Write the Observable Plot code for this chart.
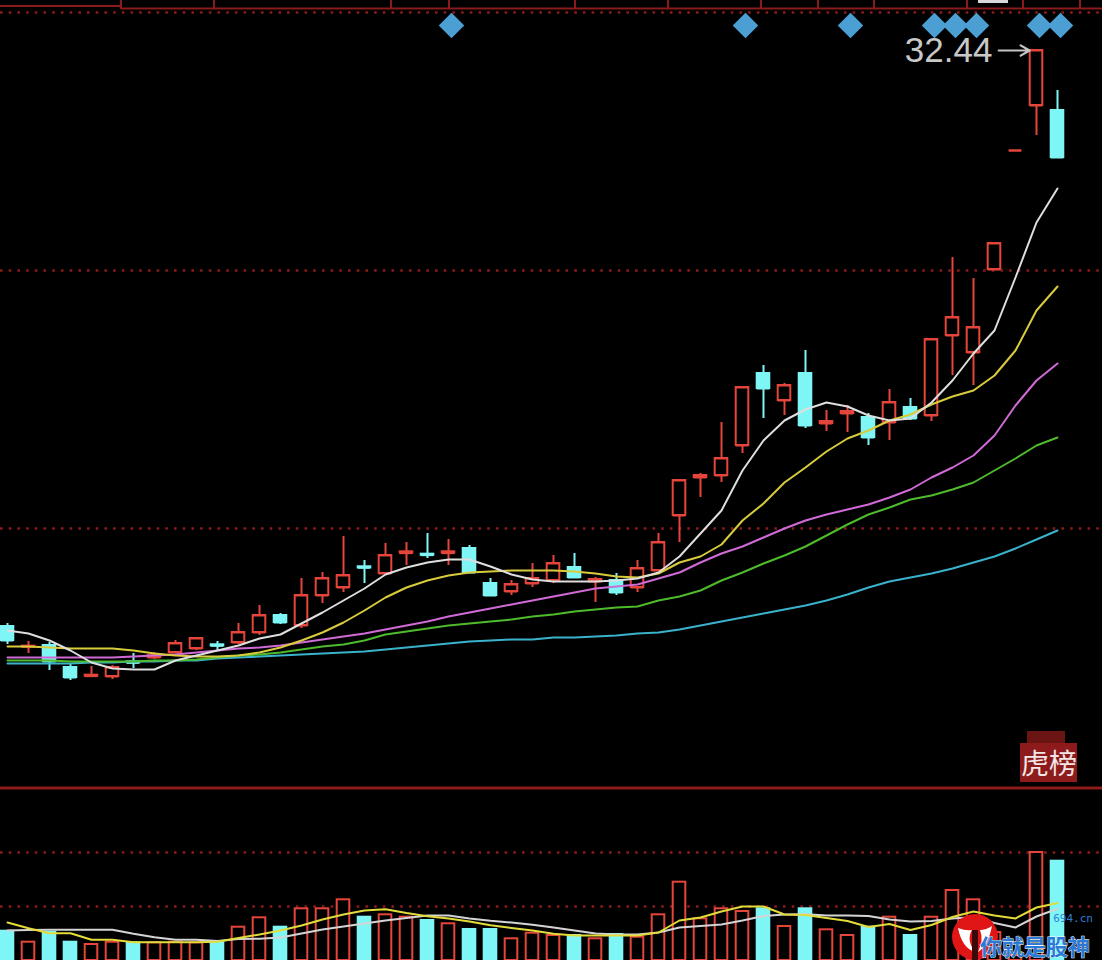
<!DOCTYPE html>
<html>
<head>
<meta charset="utf-8">
<script src="https://cdn.jsdelivr.net/npm/d3@7"></script>
<script src="https://cdn.jsdelivr.net/npm/@observablehq/plot@0.6"></script>
<style>
html,body{margin:0;padding:0;background:#000;}
#wrap{position:relative;width:1102px;height:960px;overflow:hidden;background:#000;font-family:"Liberation Sans",Arial,sans-serif;}
#main{position:absolute;left:0;top:0;}
#vol{position:absolute;left:0;top:788px;}
#deco{position:absolute;left:0;top:0;pointer-events:none;}
</style>
</head>
<body>
<div id="wrap"><div id="main"></div><div id="vol"></div></div>
<script>
// ---- daily candles (price) ----
const open = [15.16,14.55,14.59,13.93,13.67,13.66,14.10,14.23,14.38,14.50,
  14.61,14.68,14.98,15.49,15.19,16.09,16.33,16.95,16.75,17.36,
  17.33,17.36,17.50,16.45,16.21,16.45,16.54,16.93,16.51,16.54,
  16.33,16.84,18.49,19.63,19.69,20.59,22.75,21.94,22.75,21.25,
  21.55,21.43,21.28,21.73,21.49,23.89,23.38,25.87,29.44,30.79,30.64];
const high = [15.25,14.71,14.68,14.05,13.96,13.99,14.35,14.38,14.74,14.83,
  14.71,15.25,15.79,15.55,16.60,16.78,17.86,17.14,17.65,17.68,
  17.95,17.77,17.59,16.60,16.54,17.05,17.29,17.35,16.63,16.75,
  17.14,17.95,19.54,19.75,21.28,22.33,22.99,22.45,23.44,21.64,
  21.79,21.55,22.27,22.00,23.77,26.23,25.60,26.65,29.44,32.44,31.24];
const low = [14.62,14.35,13.84,13.54,13.66,13.57,13.90,14.17,14.35,14.44,
  14.44,14.62,14.89,15.22,15.10,15.85,16.18,16.45,16.69,16.99,
  17.20,16.99,16.75,16.09,16.09,16.33,16.45,16.60,15.88,16.09,
  16.18,16.84,17.68,19.03,19.48,20.35,21.40,21.49,21.10,21.01,
  20.98,20.59,20.74,21.34,21.31,22.69,22.39,25.87,29.44,29.89,29.23];
const close = [14.74,14.57,14.11,13.63,13.70,13.93,14.07,14.29,14.65,14.80,
  14.58,14.98,15.49,15.28,16.09,16.60,16.69,16.92,17.29,17.40,
  17.30,17.40,16.78,16.09,16.42,16.60,17.05,16.63,16.57,16.18,
  16.90,17.68,19.54,19.69,20.20,22.33,22.30,22.39,21.19,21.31,
  21.61,20.83,21.88,21.40,23.77,24.43,24.13,26.65,29.44,32.44,29.23];

// ---- price moving averages ----
const ma5 = [15.04,14.95,14.74,14.44,14.08,13.90,13.87,13.87,14.14,14.29,
  14.44,14.59,14.80,14.92,15.25,15.58,15.94,16.30,16.72,16.93,
  17.08,17.17,17.17,16.96,16.72,16.57,16.51,16.51,16.51,16.54,
  16.60,16.78,17.26,17.95,18.64,19.84,20.74,21.34,21.67,21.88,
  21.76,21.49,21.34,21.40,21.88,22.54,23.35,24.04,25.63,27.28,28.30];
const ma10 = [14.56,14.56,14.53,14.50,14.50,14.50,14.44,14.35,14.29,14.26,
  14.26,14.29,14.38,14.53,14.74,14.98,15.28,15.64,16.03,16.33,
  16.54,16.69,16.78,16.81,16.84,16.84,16.84,16.81,16.75,16.66,
  16.63,16.75,17.08,17.26,17.62,18.34,18.85,19.48,19.93,20.41,
  20.80,21.04,21.34,21.52,21.82,22.06,22.24,22.69,23.44,24.64,25.36];
const ma20 = [14.23,14.23,14.23,14.23,14.23,14.23,14.26,14.29,14.32,14.38,
  14.44,14.50,14.53,14.59,14.68,14.77,14.86,14.95,15.07,15.19,
  15.31,15.46,15.58,15.70,15.82,15.94,16.06,16.18,16.30,16.36,
  16.42,16.60,16.78,17.08,17.35,17.56,17.83,18.10,18.34,18.52,
  18.67,18.82,19.03,19.27,19.63,19.93,20.29,20.89,21.79,22.54,23.05];
const ma30 = [14.14,14.14,14.14,14.11,14.11,14.11,14.11,14.14,14.14,14.17,
  14.23,14.29,14.32,14.38,14.47,14.56,14.62,14.74,14.92,15.01,
  15.10,15.19,15.25,15.31,15.37,15.46,15.52,15.61,15.67,15.73,
  15.76,15.94,16.06,16.24,16.54,16.78,17.05,17.29,17.56,17.89,
  18.22,18.52,18.73,18.97,19.09,19.27,19.48,19.84,20.20,20.59,20.83];
const ma60 = [14.05,14.05,14.05,14.05,14.08,14.08,14.11,14.11,14.14,14.14,
  14.20,14.23,14.26,14.29,14.32,14.35,14.38,14.41,14.47,14.53,
  14.59,14.65,14.71,14.74,14.77,14.77,14.83,14.83,14.86,14.89,
  14.95,14.98,15.07,15.19,15.31,15.43,15.55,15.67,15.79,15.94,
  16.12,16.33,16.51,16.63,16.75,16.90,17.08,17.26,17.50,17.77,18.04];

// ---- volume and its averages ----
const volume = [2.93,1.83,2.83,1.83,1.60,1.83,1.77,1.77,1.83,1.77,
  1.77,3.33,4.27,3.33,5.17,5.17,6.07,4.33,4.57,4.33,
  4.00,3.67,3.10,3.10,2.17,2.73,2.50,2.50,2.17,2.60,
  2.33,4.57,7.83,4.17,5.17,4.90,5.17,3.40,5.17,3.07,
  2.50,3.33,4.33,2.50,4.33,7.00,6.07,2.80,0.50,10.80,9.93];
const vma5 = [3.80,3.23,2.73,2.73,2.07,2.07,1.83,1.83,1.83,1.83,
  1.87,2.25,2.60,3.00,3.50,4.10,4.60,5.00,5.12,4.75,
  4.43,4.20,3.90,3.53,3.25,3.00,2.67,2.50,2.50,2.50,
  2.50,2.80,4.00,4.30,4.90,5.40,5.40,4.60,4.55,4.25,
  3.95,3.35,3.65,3.05,3.55,4.35,4.90,4.50,4.20,5.30,5.75];
const vma10 = [3.00,3.05,3.07,3.07,3.07,3.07,2.67,2.33,2.07,2.07,
  1.95,2.15,2.17,2.30,2.70,3.10,3.40,3.70,4.00,4.25,
  4.50,4.50,4.20,3.97,3.80,3.57,3.30,3.00,2.70,2.60,
  2.60,2.80,3.30,3.45,3.60,4.00,4.45,4.60,4.62,4.50,
  4.50,4.45,4.10,3.90,3.95,4.20,4.35,3.75,3.30,4.40,5.17];

// ---- signal markers (candle indices) and grid levels ----
const signalIdx = [21,35,40,44,45,46,49,50];
const priceDomain = [10.36, 33.58];
const priceGrid = [18.10, 25.84, 33.58];
const volDomain = [0, 16.2];
const volGrid = [5.4, 10.8];

// ---- build tables ----
const N = close.length;
const candles = d3.range(N).map(i => ({
  i, open: open[i], high: high[i], low: low[i], close: close[i],
  volume: volume[i], up: close[i] >= open[i]
}));
const series = arr => arr.map((v, i) => ({i, v}));

const RED = "#e5453b", CYAN = "#7ff6f6", GRID = "#8b1b1b";
const col = d => d.up ? RED : CYAN;
const hw = 0.3;
const xScale = {type: "linear", domain: [-1/3, 52.1429], axis: null};

const iMax = d3.maxIndex(high);
const topMark = [{i: iMax, v: high[iMax]}];

const main = Plot.plot({
  width: 1102, height: 788,
  marginTop: 12, marginBottom: 2, marginLeft: 0, marginRight: 0,
  style: {background: "transparent", overflow: "visible"},
  x: xScale,
  y: {domain: priceDomain, axis: null},
  marks: [
    Plot.ruleY(priceGrid, {stroke: GRID, strokeWidth: 2.5, strokeDasharray: "2.6,6.1"}),
    Plot.ruleX(candles, {x: "i", y1: "low", y2: "high", stroke: col, strokeWidth: 2}),
    Plot.rect(candles, {
      x1: d => d.i - hw, x2: d => d.i + hw,
      y1: d => Math.min(d.open, d.close), y2: d => Math.max(d.open, d.close),
      fill: d => d.up ? "#000000" : CYAN, stroke: col, strokeWidth: 2
    }),
    Plot.ruleY(candles, {y: "open", x1: d => d.i - hw, x2: d => d.i + hw, stroke: col, strokeWidth: 2}),
    Plot.ruleY(candles, {y: "close", x1: d => d.i - hw, x2: d => d.i + hw, stroke: col, strokeWidth: 2}),
    Plot.line(series(ma60), {x: "i", y: "v", stroke: "#3ab2cc", strokeWidth: 2}),
    Plot.line(series(ma30), {x: "i", y: "v", stroke: "#4dbb2c", strokeWidth: 2}),
    Plot.line(series(ma20), {x: "i", y: "v", stroke: "#d06ad6", strokeWidth: 2}),
    Plot.line(series(ma10), {x: "i", y: "v", stroke: "#d8cc3c", strokeWidth: 2}),
    Plot.line(series(ma5), {x: "i", y: "v", stroke: "#dedede", strokeWidth: 2}),
    Plot.dot(signalIdx, {x: d => d, frameAnchor: "top", dy: 13, dx: 3, symbol: "diamond2", r: 11.5, fill: "#4b9fd2"}),
    Plot.arrow(topMark, {x1: d => d.i - 1.8, x2: d => d.i - 0.33, y1: "v", y2: "v", stroke: "#c4c4c4", strokeWidth: 2.2, headLength: 10}),
    Plot.text(topMark, {x: d => d.i - 2.1, y: "v", text: d => d.v.toFixed(2), textAnchor: "end", fill: "#c8c8c8", fontSize: 35, fontFamily: "Liberation Sans, Arial, sans-serif"})
  ]
});
document.getElementById("main").appendChild(main);

const vol = Plot.plot({
  width: 1102, height: 172,
  marginTop: 10, marginBottom: 0, marginLeft: 0, marginRight: 0,
  style: {background: "transparent"},
  x: xScale,
  y: {domain: volDomain, axis: null},
  marks: [
    Plot.ruleY(volGrid, {stroke: GRID, strokeWidth: 2.5, strokeDasharray: "2.6,6.1"}),
    Plot.rect(candles, {
      x1: d => d.i - hw, x2: d => d.i + hw, y1: 0, y2: "volume",
      fill: d => d.up ? "#000000" : CYAN, stroke: col, strokeWidth: 2
    }),
    Plot.line(series(vma10), {x: "i", y: "v", stroke: "#d4d4d4", strokeWidth: 2}),
    Plot.line(series(vma5), {x: "i", y: "v", stroke: "#e2dc3a", strokeWidth: 2})
  ]
});
document.getElementById("vol").appendChild(vol);

// ---- decorations: header strip, panel divider, tag, watermark ----
const ns = "http://www.w3.org/2000/svg";
const deco = d3.select("#wrap").append("svg").attr("id", "deco")
  .attr("width", 1102).attr("height", 960).attr("xmlns", ns);
deco.append("line").attr("x1", 0).attr("x2", 121).attr("y1", 6).attr("y2", 6)
  .attr("stroke", "#8b1a1a").attr("stroke-width", 2);
deco.append("line").attr("x1", 121).attr("x2", 1102).attr("y1", 8.5).attr("y2", 8.5)
  .attr("stroke", "#8b1a1a").attr("stroke-width", 2);
const seps = [121, 214, 391, 449, 575, 668, 761, 818, 874, 967, 1023, 1080];
seps.forEach(x => deco.append("line").attr("x1", x).attr("x2", x).attr("y1", 0).attr("y2", 9)
  .attr("stroke", "#8b1a1a").attr("stroke-width", 2));
deco.append("rect").attr("x", 978).attr("y", 0).attr("width", 30).attr("height", 3).attr("fill", "#d8d8d8");
// divider between price and volume panels
deco.append("line").attr("x1", 0).attr("x2", 1102).attr("y1", 788).attr("y2", 788)
  .attr("stroke", "#8e1a1a").attr("stroke-width", 3);
// tag
deco.append("rect").attr("x", 1027).attr("y", 731).attr("width", 38).attr("height", 13).attr("fill", "#6b1414");
deco.append("rect").attr("x", 1020).attr("y", 743).attr("width", 57).attr("height", 39).attr("fill", "#8e1b1b");
const cp = deco.append("clipPath").attr("id", "tagclip");
cp.append("rect").attr("x", 1020).attr("y", 743).attr("width", 57).attr("height", 39);
deco.append("text").attr("x", 1077).attr("y", 774).attr("text-anchor", "end")
  .attr("clip-path", "url(#tagclip)")
  .attr("font-family", "Noto Sans CJK SC").attr("font-size", 28).attr("fill", "#f3e6e6")
  .text("龙虎榜");
// watermark
deco.append("circle").attr("cx", 975).attr("cy", 937).attr("r", 23).attr("fill", "#e01616");
deco.append("path").attr("d", "M958,928 Q962,948 975,952 Q966,940 972,930 Q966,931 958,928 Z").attr("fill", "#ffffff");
deco.append("path").attr("d", "M992,926 Q988,946 978,952 Q984,940 980,930 Q986,930 992,926 Z").attr("fill", "#ffffff");
deco.append("rect").attr("x", 972).attr("y", 930).attr("width", 6).attr("height", 30).attr("fill", "#3a0a0a");
deco.append("text").attr("x", 1093).attr("y", 922).attr("text-anchor", "end")
  .attr("font-family", "DejaVu Sans Mono").attr("font-size", 11).attr("fill", "#2f7fd6")
  .text("694.cn");
deco.append("text").attr("x", 980).attr("y", 955)
  .attr("font-family", "Noto Sans CJK SC").attr("font-weight", "bold").attr("font-size", 22)
  .attr("fill", "#2a79d4").attr("stroke", "#ffffff").attr("stroke-width", 0.8)
  .attr("paint-order", "stroke")
  .text("你就是股神");
</script>
</body>
</html>
